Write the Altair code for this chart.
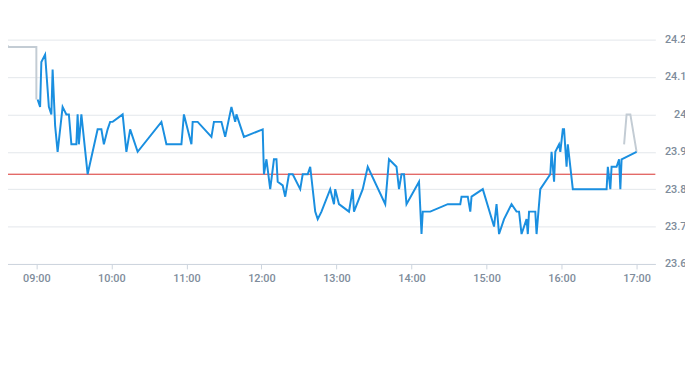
import altair as alt
import pandas as pd

# Pre-market (gray)
pre_t = ["08:31:30", "08:31:30", "08:38", "09:00", "09:00"]
pre_v = [24.00, 24.20, 24.18, 24.18, 24.04]

# Regular session (blue)
reg_t = ["09:01","09:03","09:04","09:07","09:10","09:12","09:13","09:15","09:17","09:21",
         "09:24","09:26","09:28","09:32","09:33","09:34","09:36","09:41","09:49","09:52",
         "09:54","09:57","09:59","10:01","10:09","10:12","10:15","10:21","10:40","10:44",
         "10:56","10:58","11:04","11:05","11:09","11:20","11:22","11:28","11:31","11:36",
         "11:39","11:40","11:46","12:01","12:02","12:04","12:07","12:10","12:12","12:13",
         "12:17","12:19","12:22","12:25","12:31","12:33","12:37","12:39","12:43","12:45",
         "12:48","12:55","12:58","12:59","13:02","13:10","13:13","13:14","13:21","13:25",
         "13:39","13:42","13:48","13:50","13:52","13:54","13:56","14:06","14:08","14:09",
         "14:15","14:29","14:39","14:40","14:45","14:47","14:48","14:57","15:06","15:08",
         "15:10","15:14","15:20","15:24","15:26","15:28","15:32","15:33","15:34","15:39",
         "15:40","15:43","15:51","15:52","15:54","15:55","15:58","15:59","16:01","16:02",
         "16:04","16:05","16:09","16:36","16:37","16:39","16:40","16:44","16:46","16:47",
         "16:48","17:00"]
reg_v = [24.04,24.02,24.14,24.16,24.02,24.00,24.12,23.97,23.90,24.02,
         24.00,24.00,23.92,23.92,24.00,23.92,24.00,23.84,23.96,23.96,
         23.92,23.96,23.98,23.98,24.00,23.90,23.96,23.90,23.98,23.92,
         23.92,24.00,23.92,23.98,23.98,23.94,23.98,23.98,23.94,24.02,
         23.98,24.00,23.94,23.96,23.84,23.88,23.80,23.88,23.88,23.82,
         23.81,23.78,23.84,23.84,23.80,23.84,23.84,23.86,23.74,23.72,
         23.74,23.80,23.76,23.80,23.76,23.74,23.80,23.74,23.80,23.86,
         23.76,23.88,23.86,23.80,23.84,23.84,23.76,23.82,23.68,23.74,
         23.74,23.76,23.76,23.78,23.78,23.74,23.78,23.80,23.70,23.76,
         23.68,23.72,23.76,23.74,23.74,23.68,23.72,23.68,23.74,23.74,
         23.68,23.80,23.84,23.90,23.82,23.90,23.92,23.90,23.96,23.96,
         23.86,23.92,23.80,23.80,23.86,23.80,23.86,23.86,23.88,23.80,
         23.88,23.90]

# After-hours (gray)
post_t = ["16:50", "16:52", "16:55", "17:00"]
post_v = [23.92, 24.00, 24.00, 23.90]

prev_close = 23.84
y_ticks = [23.6, 23.7, 23.8, 23.9, 24.0, 24.1, 24.2]
x_hours = [9, 10, 11, 12, 13, 14, 15, 16, 17]

DAY = "2024-01-02T"


def frame(ts, vs, series):
    return pd.DataFrame({
        "t": [DAY + (t if len(t) > 5 else t + ":00") for t in ts],
        "v": vs,
        "series": series,
        "idx": list(range(len(ts))),
    })


df_pre = frame(pre_t, pre_v, "pre")
df_post = frame(post_t, post_v, "post")
df_gray = pd.concat([df_pre, df_post], ignore_index=True)
df_reg = frame(reg_t, reg_v, "reg")
df_rule = pd.DataFrame({"v": [prev_close]})


def dt(h, m=0):
    return alt.DateTime(year=2024, month=1, date=2, hours=h, minutes=m)


label_color = "#7e8c9b"

x_enc = alt.X(
    "t:T",
    title=None,
    scale=alt.Scale(domain=[dt(8, 31), dt(17, 15)]),
    axis=alt.Axis(
        format="%H:%M",
        values=[dt(h) for h in x_hours],
        grid=False,
        domainColor="#ccd5de",
        tickColor="#ccd5de",
        tickSize=5,
        labelPadding=4,
        labelColor=label_color,
        labelFont="Roboto",
        labelFontSize=11,
        labelFontWeight=500,
    ),
)
y_axis = alt.Axis(
    orient="right",
    values=y_ticks,
    format="~g",
    ticks=False,
    domain=False,
    gridColor="#e3e7eb",
    labelAlign="right",
    labelPadding=31,
    labelOverlap=False,
    labelColor=label_color,
    labelFont="Roboto",
    labelFontSize=11,
    labelFontWeight=500,
)
y_scale = alt.Scale(domain=[23.6, 24.2], nice=False, zero=False)
y_enc = alt.Y("v:Q", title=None, scale=y_scale, axis=y_axis)

gray = alt.Chart(df_gray).mark_line(color="#c3ccd4", strokeWidth=2, clip=True).encode(
    x=x_enc, y=y_enc, detail="series:N", order="idx:Q"
)
blue = alt.Chart(df_reg).mark_line(color="#1a8fe0", strokeWidth=2, clip=True).encode(
    x=x_enc, y=y_enc, order="idx:Q"
)
rule = alt.Chart(df_rule).mark_rule(color="#d9302c", strokeWidth=1).encode(
    y=y_enc
)

chart = (
    alt.layer(gray, rule, blue)
    .properties(
        width=663,
        height=227,
        autosize="none",
        padding={"left": -8, "top": 30, "right": 30, "bottom": 80},
    )
    .configure_view(stroke=None)
)

chart.save("out.html", embed_options={"renderer": "svg", "actions": False})
